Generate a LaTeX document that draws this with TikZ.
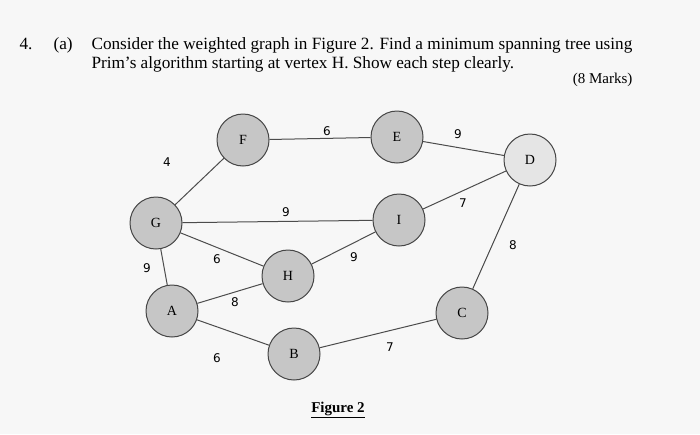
\documentclass[tikz,border=0pt]{standalone}
\usepackage{fontspec}
\setmainfont{Liberation Serif}
\setsansfont{DejaVu Sans}
\begin{document}
\begin{tikzpicture}[x=1pt,y=-1pt,
  vtx/.style={circle, draw=gray!55!black, line width=1pt, fill=gray!45, minimum size=52pt, inner sep=0pt, font=\fontsize{14}{14}\selectfont},
  wt/.style={font=\sffamily\fontsize{12}{12}\selectfont}]
  \fill[gray!6] (0,0) rectangle (700,434);
  \useasboundingbox (0,0) rectangle (700,434);

  \node[anchor=base west, font=\fontsize{17.2}{17.2}\selectfont] (q) at (16,49) {4.};
  \node[anchor=base west, font=\fontsize{17.2}{17.2}\selectfont] (pa) at (50,49) {(a)};
  \node[anchor=base west, font=\fontsize{17.2}{17.2}\selectfont] (l1) at (88,49) {Consider the weighted graph in Figure 2. Find a minimum spanning tree using};
  \node[anchor=base west, font=\fontsize{17.2}{17.2}\selectfont] (l2) at (88,68) {Prim's algorithm starting at vertex H. Show each step clearly.};
  \node[anchor=base east, font=\fontsize{15}{15}\selectfont] (mk) at (636,83) {(8 Marks)};

  \node[vtx] (F) at (243,140) {F};
  \node[vtx] (E) at (397,137) {E};
  \node[vtx, fill=gray!20] (D) at (530,160) {D};
  \node[vtx] (G) at (156,223) {G};
  \node[vtx] (I) at (399,220) {I};
  \node[vtx] (H) at (288,276) {H};
  \node[vtx] (A) at (172,311) {A};
  \node[vtx] (C) at (462,313) {C};
  \node[vtx] (B) at (294,354) {B};

  \begin{scope}[draw=gray!60!black, line width=1pt]
    \draw (G) -- (F);
    \draw (F) -- (E);
    \draw (E) -- (D);
    \draw (G) -- (I);
    \draw (I) -- (D);
    \draw (D) -- (C);
    \draw (G) -- (A);
    \draw (G) -- (H);
    \draw (H) -- (I);
    \draw (A) -- (H);
    \draw (A) -- (B);
    \draw (B) -- (C);
  \end{scope}

  \node[wt] (wGF) at (167,162) {4};
  \node[wt] (wFE) at (327,131) {6};
  \node[wt] (wED) at (458,134) {9};
  \node[wt] (wGI) at (286,212) {9};
  \node[wt] (wID) at (463,203) {7};
  \node[wt] (wDC) at (513,245) {8};
  \node[wt] (wGA) at (147,268) {9};
  \node[wt] (wGH) at (217,259) {6};
  \node[wt] (wHI) at (354,257) {9};
  \node[wt] (wAH) at (235,302) {8};
  \node[wt] (wAB) at (217,358) {6};
  \node[wt] (wBC) at (390,347) {7};

  \node[font=\bfseries\fontsize{15}{15}\selectfont] (cap) at (338,410) {\underline{Figure 2}};
\end{tikzpicture}
\end{document}
